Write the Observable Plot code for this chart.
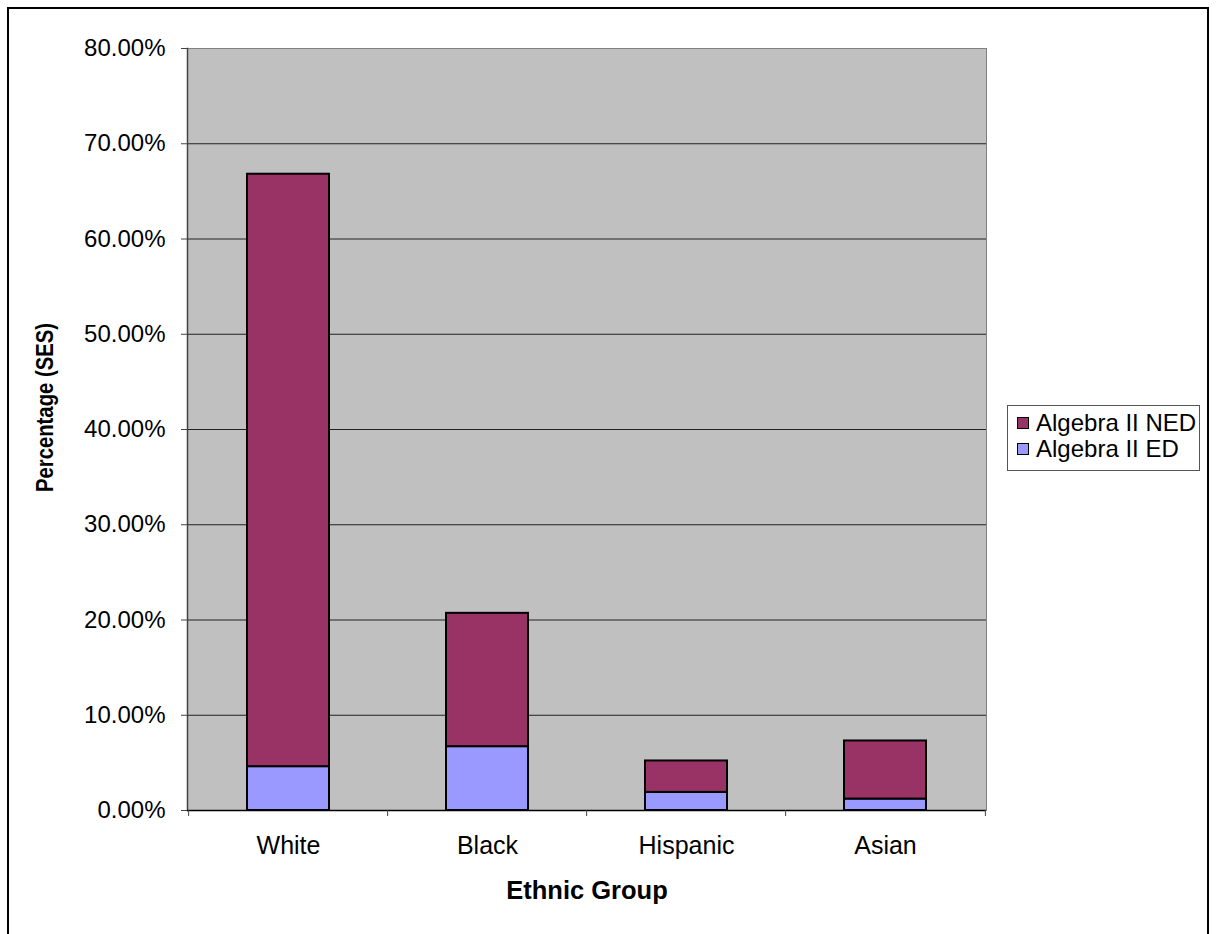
<!DOCTYPE html>
<html>
<head>
<meta charset="utf-8">
<script src="https://cdn.jsdelivr.net/npm/d3@7"></script>
<script src="https://cdn.jsdelivr.net/npm/@observablehq/plot@0.6"></script>
<style>
  html, body { margin: 0; padding: 0; background: #fff; }
  #wrap { position: relative; width: 1217px; height: 934px; overflow: hidden; font-family: "Liberation Sans", Arial, sans-serif; }
  #border { position: absolute; left: 7px; top: 7px; width: 1202px; height: 960px; border: 2px solid #000; box-sizing: border-box; }
  #chart { position: absolute; left: 0; top: 0; }
  #legend { position: absolute; left: 1007px; top: 405px; width: 193px; height: 66px; border: 1px solid #555; box-sizing: border-box; background: #fff; font-size: 24px; }
  .row { position: absolute; left: 9px; display: flex; align-items: center; white-space: nowrap; color: #000; }
  .sw { width: 12px; height: 12px; border: 1.5px solid #000; box-sizing: border-box; margin-right: 7px; }
</style>
</head>
<body>
<div id="wrap">
  <div id="chart"></div>
  <div id="border"></div>
  <div id="legend"></div>
</div>
<script>
const groups = ["White", "Black", "Hispanic", "Asian"];
const seriesNames = ["Algebra II ED", "Algebra II NED"];
const edValues = [0.046, 0.067, 0.019, 0.012];
const nedValues = [0.622, 0.140, 0.033, 0.061];
const seriesColors = ["#9999FF", "#993366"];
const yTicks = [0, 0.1, 0.2, 0.3, 0.4, 0.5, 0.6, 0.7, 0.8];
const legendOrder = ["Algebra II NED", "Algebra II ED"];

const data = [];
groups.forEach((g, i) => {
  data.push({group: g, series: seriesNames[0], value: edValues[i]});
  data.push({group: g, series: seriesNames[1], value: nedValues[i]});
});

const W = 1217, H = 934, ml = 187, mr = 231, mt = 48, mb = 124;
const step = (W - ml - mr) / groups.length;
const fmt = d => (d * 100).toFixed(2) + "%";

const plot = Plot.plot({
  width: W, height: H,
  marginLeft: ml, marginRight: mr, marginTop: mt, marginBottom: mb,
  style: {fontFamily: "'Liberation Sans', Arial, sans-serif", background: "transparent", overflow: "visible"},
  x: {domain: groups, paddingInner: 0.59, paddingOuter: 0.295, label: null},
  y: {domain: [0, 0.8], label: null},
  color: {domain: seriesNames, range: seriesColors},
  marks: [
    Plot.frame({fill: "#c0c0c0", stroke: "#808080"}),
    Plot.ruleY(yTicks.slice(1, -1), {stroke: "#222", strokeWidth: 1}),
    Plot.frame({anchor: "left", stroke: "#444", strokeWidth: 1.5}),
    Plot.barY(data, Plot.stackY({order: seriesNames, x: "group", y: "value", fill: "series", stroke: "#000", strokeWidth: 2})),
    Plot.ruleY([0], {stroke: "#000", strokeWidth: 1.5}),
    Plot.axisY({ticks: yTicks, tickFormat: fmt, tickSize: 6, tickPadding: 16, fontSize: 24, stroke: "#444", color: "#000", label: null}),
    Plot.axisX({tickSize: 6, dx: -step / 2, text: null, stroke: "#444", label: null}),
    Plot.axisX({ticks: [groups[groups.length - 1]], tickSize: 6, dx: step / 2, text: null, stroke: "#444", label: null}),
    Plot.axisX({tickSize: 0, tickPadding: 26, fontSize: 25, color: "#000", label: null}),
    Plot.text(["Ethnic Group"], {frameAnchor: "bottom", dy: 88, text: d => d, fontSize: 25.5, fontWeight: "bold", fill: "#000"}),
    Plot.text(["Percentage (SES)"], {frameAnchor: "left", textAnchor: "middle", dx: -142, dy: -22, rotate: -90, text: d => d, fontSize: 24, fontWeight: "bold", fill: "#000", className: "ytitle"})
  ]
});
document.getElementById("chart").appendChild(plot);
d3.select(plot).selectAll(".ytitle text")
  .attr("textLength", 169)
  .attr("lengthAdjust", "spacingAndGlyphs");

const legend = document.getElementById("legend");
legendOrder.forEach((name, i) => {
  const row = document.createElement("div");
  row.className = "row";
  row.style.top = (i === 0 ? 3 : 29) + "px";
  const sw = document.createElement("div");
  sw.className = "sw";
  sw.style.background = seriesColors[seriesNames.indexOf(name)];
  const t = document.createElement("span");
  t.textContent = name;
  row.appendChild(sw); row.appendChild(t);
  legend.appendChild(row);
});
</script>
</body>
</html>
